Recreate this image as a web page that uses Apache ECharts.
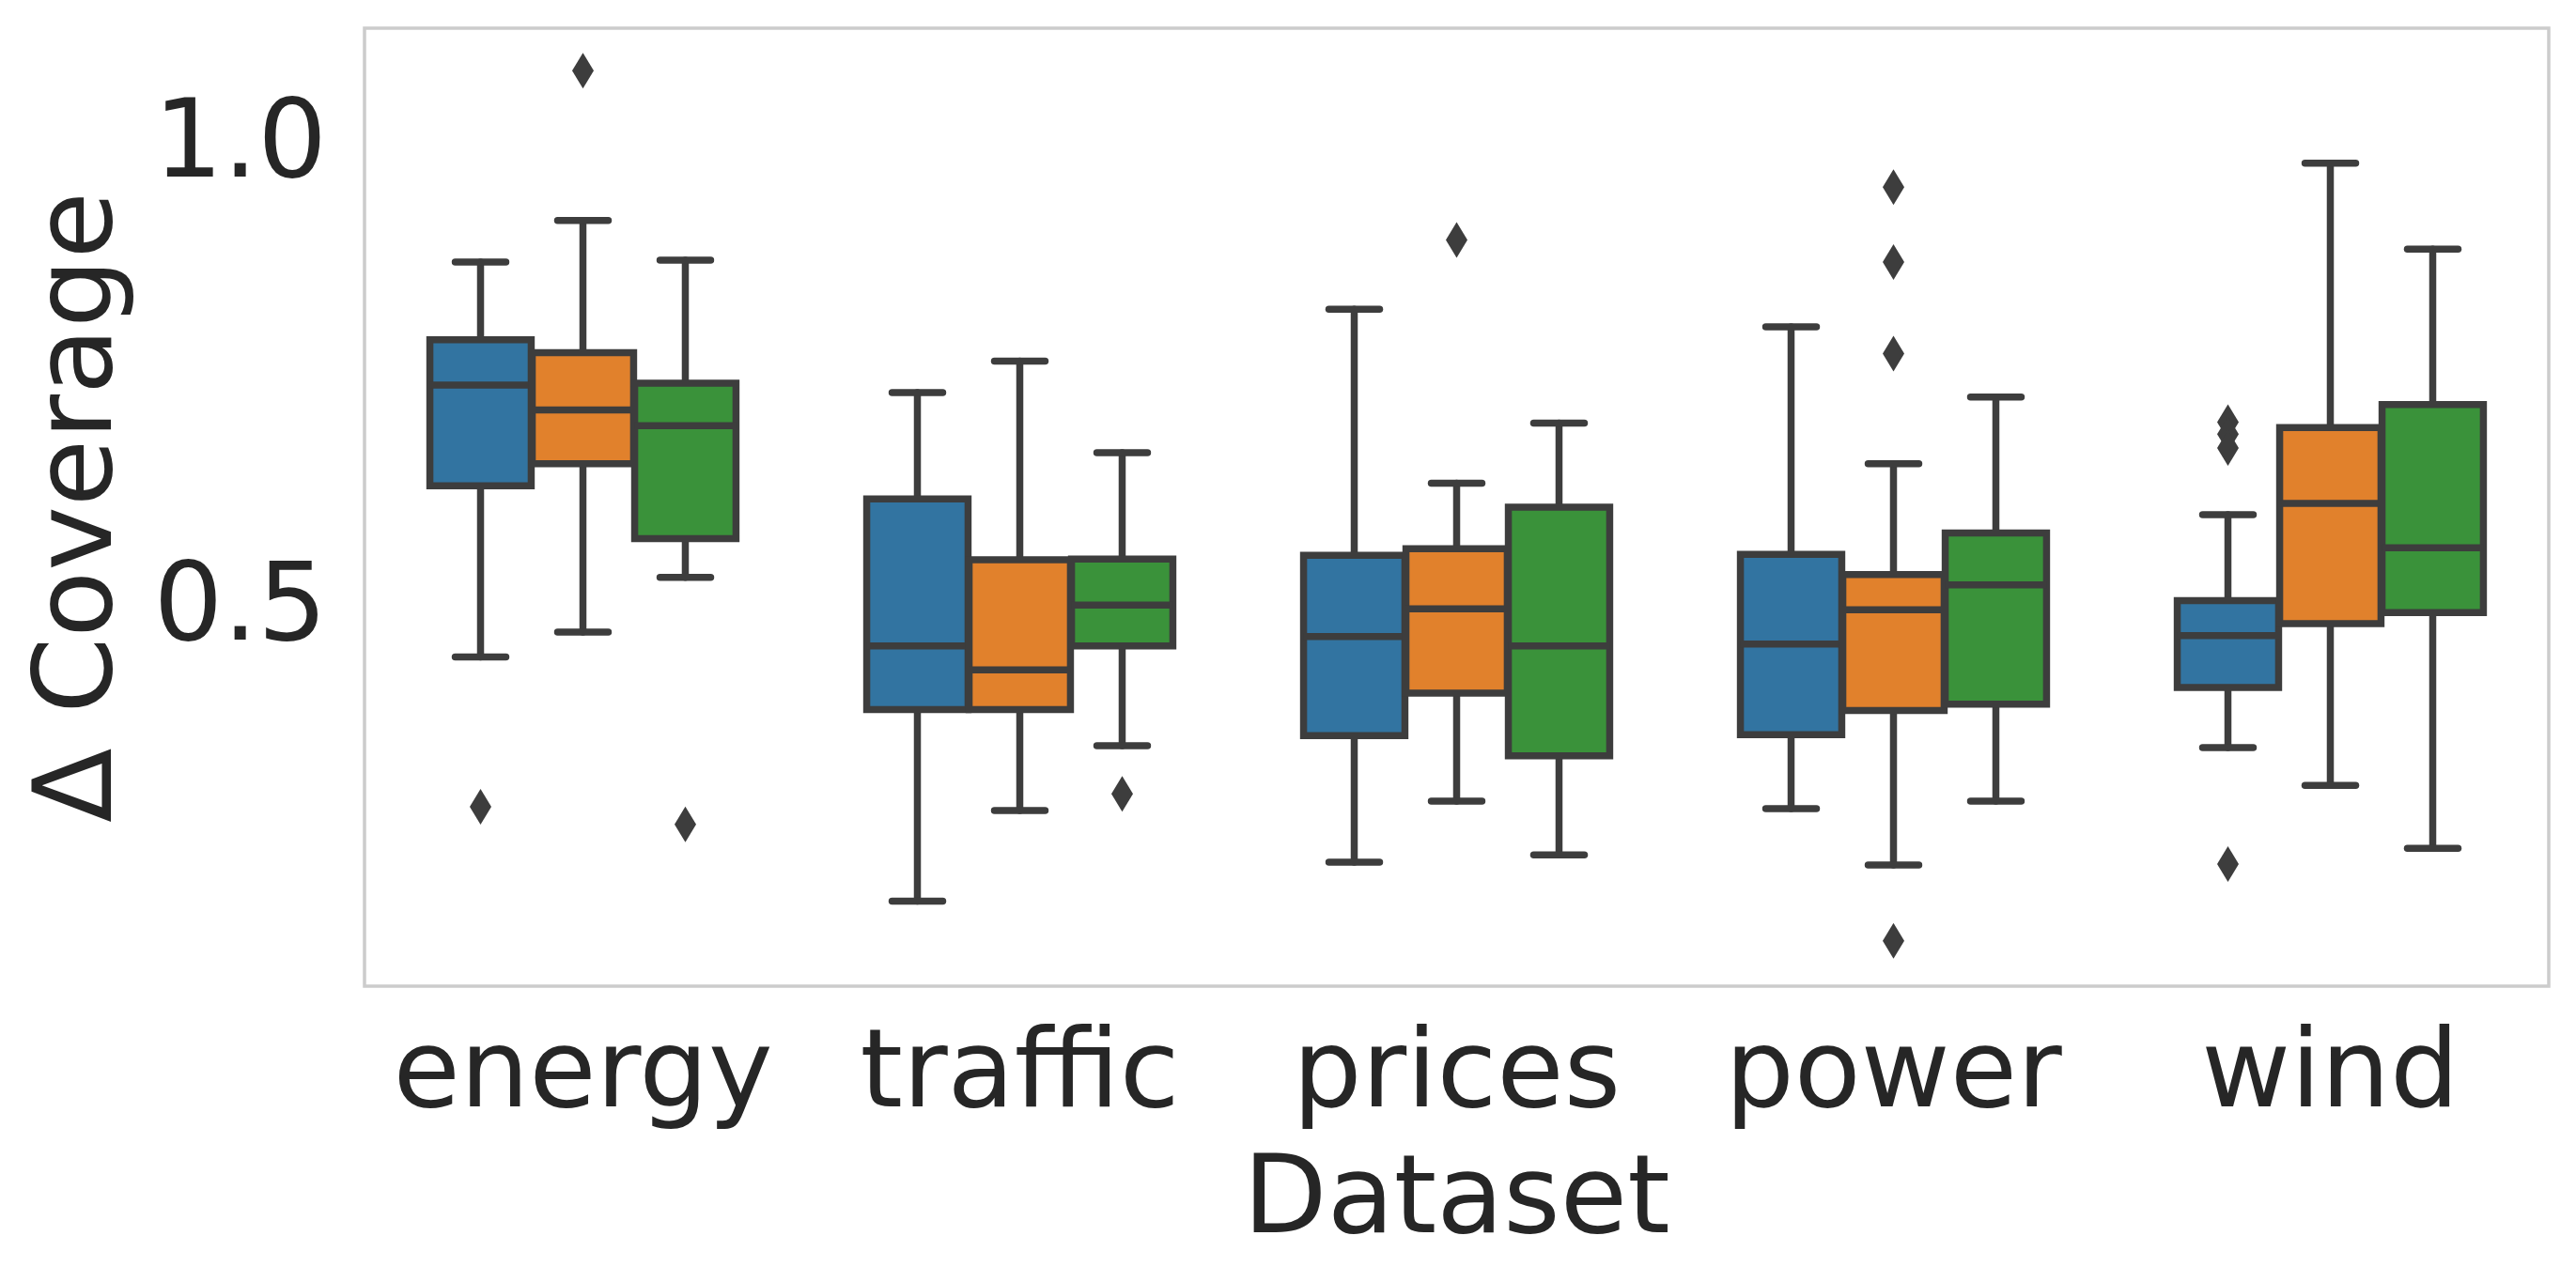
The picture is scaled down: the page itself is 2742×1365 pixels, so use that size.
<!DOCTYPE html>
<html>
<head>
<meta charset="utf-8">
<title>Δ Coverage by dataset</title>
<script src="https://cdn.jsdelivr.net/npm/echarts@6/dist/echarts.min.js"></script>
<style>
  html, body { margin: 0; padding: 0; background: #ffffff; }
  #chart { width: 2742px; height: 1365px; }
</style>
</head>
<body>
<div id="chart"></div>
<script>
// categories on the x axis
const categories = ['energy', 'traffic', 'prices', 'power', 'wind'];
const yTicks = [0.5, 1.0];

// boxes per hue: [whisker low, Q1, median, Q3, whisker high] for each category
const blueBoxes = [
    [0.439, 0.624, 0.733, 0.782, 0.866],
    [0.175, 0.382, 0.451, 0.610, 0.725],
    [0.217, 0.354, 0.461, 0.549, 0.815],
    [0.275, 0.355, 0.453, 0.550, 0.796],
    [0.341, 0.406, 0.462, 0.500, 0.593]
];
const orangeBoxes = [
    [0.466, 0.648, 0.706, 0.768, 0.911],
    [0.273, 0.382, 0.425, 0.544, 0.759],
    [0.283, 0.400, 0.491, 0.556, 0.627],
    [0.214, 0.381, 0.490, 0.528, 0.648],
    [0.300, 0.475, 0.605, 0.687, 0.973]
];
const greenBoxes = [
    [0.525, 0.567, 0.689, 0.735, 0.868],
    [0.343, 0.451, 0.495, 0.545, 0.660],
    [0.225, 0.332, 0.451, 0.601, 0.692],
    [0.283, 0.388, 0.517, 0.573, 0.720],
    [0.232, 0.487, 0.557, 0.712, 0.880]
];

// outliers per hue: [category index, value]
const blueOutliers = [[0, 0.277], [4, 0.693], [4, 0.680], [4, 0.665], [4, 0.215]];
const orangeOutliers = [[0, 1.073], [2, 0.890], [3, 0.947], [3, 0.866], [3, 0.767], [3, 0.132]];
const greenOutliers = [[0, 0.258], [1, 0.291]];

const hueColors = ['#3274a1', '#e1812c', '#3a923a'];
const EDGE = '#3d3d3d';
const TEXT = '#262626';
const FONT = 'DejaVu Sans';
const HUE_STEP = 0.2344;   // distance between box centres, fraction of band
const BOX_W = 0.232;       // box width, fraction of band
const LW = 7.5;

function boxRenderer(hueIdx, color) {
    return function (params, api) {
        const cat = api.value(0);
        const band = api.size([1, 0])[0];
        const x = api.coord([cat, 0])[0] + (hueIdx - 1) * band * HUE_STEP;
        const half = band * BOX_W / 2;
        const y = i => api.coord([cat, api.value(i)])[1];
        const lo = y(1), q1 = y(2), med = y(3), q3 = y(4), hi = y(5);
        const lineStyle = { stroke: EDGE, lineWidth: LW, lineCap: 'round' };
        return {
            type: 'group',
            children: [
                { type: 'line', shape: { x1: x, y1: q3, x2: x, y2: hi }, style: lineStyle },
                { type: 'line', shape: { x1: x, y1: q1, x2: x, y2: lo }, style: lineStyle },
                { type: 'line', shape: { x1: x - half / 2, y1: hi, x2: x + half / 2, y2: hi }, style: lineStyle },
                { type: 'line', shape: { x1: x - half / 2, y1: lo, x2: x + half / 2, y2: lo }, style: lineStyle },
                {
                    type: 'rect',
                    shape: { x: x - half, y: q3, width: half * 2, height: q1 - q3 },
                    style: { fill: color, stroke: EDGE, lineWidth: LW }
                },
                { type: 'line', shape: { x1: x - half, y1: med, x2: x + half, y2: med }, style: { stroke: EDGE, lineWidth: LW } }
            ]
        };
    };
}

function flierRenderer(hueIdx) {
    return function (params, api) {
        const cat = api.value(0);
        const band = api.size([1, 0])[0];
        const p = api.coord([cat, api.value(1)]);
        const x = p[0] + (hueIdx - 1) * band * HUE_STEP;
        const yc = p[1];
        return {
            type: 'polygon',
            shape: { points: [[x, yc - 19], [x + 11.5, yc], [x, yc + 19], [x - 11.5, yc]] },
            style: { fill: EDGE }
        };
    };
}

const boxSets = [blueBoxes, orangeBoxes, greenBoxes];
const flierSets = [blueOutliers, orangeOutliers, greenOutliers];

const series = [];
boxSets.forEach((boxes, h) => {
    series.push({
        type: 'custom',
        renderItem: boxRenderer(h, hueColors[h]),
        encode: { x: 0, y: [1, 2, 3, 4, 5] },
        data: boxes.map((b, i) => [i].concat(b)),
        z: 2
    });
});
flierSets.forEach((pts, h) => {
    series.push({
        type: 'custom',
        renderItem: flierRenderer(h),
        encode: { x: 0, y: 1 },
        data: pts,
        z: 3
    });
});

const chart = echarts.init(document.getElementById('chart'));
chart.setOption({
    backgroundColor: '#ffffff',
    animation: false,
    grid: {
        left: 388, top: 30, width: 2325, height: 1020,
        show: true, borderColor: '#cccccc', borderWidth: 3.5, backgroundColor: '#ffffff'
    },
    xAxis: {
        type: 'category',
        data: categories,
        name: 'Dataset',
        nameLocation: 'middle',
        nameGap: 174,
        nameTextStyle: { fontFamily: FONT, fontSize: 116, color: TEXT },
        axisLine: { show: false },
        axisTick: { show: false },
        splitLine: { show: false },
        axisLabel: { interval: 0, fontFamily: FONT, fontSize: 116, color: TEXT, margin: 40 }
    },
    yAxis: {
        type: 'value',
        min: 0.083,
        max: 1.119,
        name: 'Δ Coverage',
        nameLocation: 'middle',
        nameGap: 242,
        nameTextStyle: { fontFamily: FONT, fontSize: 116, color: TEXT },
        axisLine: { show: false },
        axisTick: { show: false },
        splitLine: { show: false },
        axisLabel: {
            customValues: yTicks,
            formatter: v => '{t|' + v.toFixed(1) + '}',
            rich: { t: { fontFamily: FONT, fontSize: 116, color: TEXT, padding: [22, 0, 0, 0] } },
            margin: 40
        }
    },
    series: series
});
</script>
</body>
</html>
